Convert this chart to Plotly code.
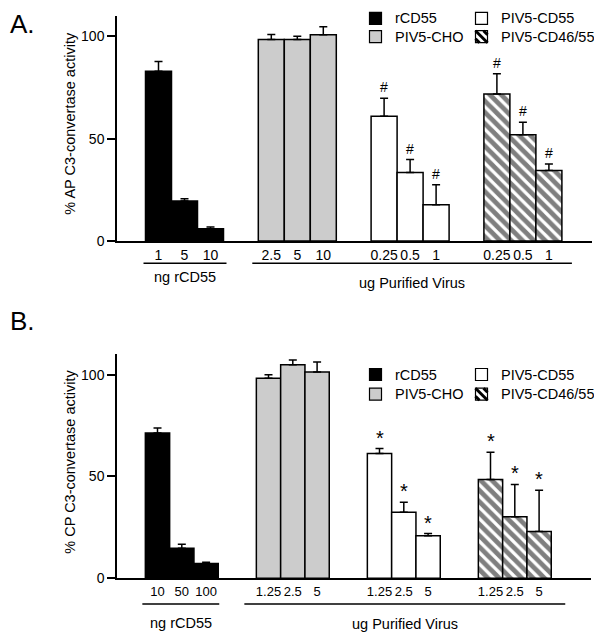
import plotly.graph_objects as go

# ---------------- data ----------------
series_names = ["rCD55", "PIV5-CHO", "PIV5-CD55", "PIV5-CD46/55"]

# Panel A (AP C3-convertase)
a_labels_rcd55 = ["1", "5", "10"]
a_labels_cho = ["2.5", "5", "10"]
a_labels_cd55 = ["0.25", "0.5", "1"]
a_labels_cd4655 = ["0.25", "0.5", "1"]
a_vals_rcd55 = [83.0, 19.5, 6.0]
a_vals_cho = [98.5, 98.5, 100.8]
a_vals_cd55 = [61.0, 33.5, 17.7]
a_vals_cd4655 = [71.9, 51.9, 34.5]
a_err_rcd55 = [4.8, 1.1, 0.9]
a_err_cho = [2.5, 1.6, 3.9]
a_err_cd55 = [8.8, 6.3, 9.8]
a_err_cd4655 = [9.9, 6.1, 3.1]
a_sig_cd55 = ["#", "#", "#"]
a_sig_cd4655 = ["#", "#", "#"]

# Panel B (CP C3-convertase)
b_labels_rcd55 = ["10", "50", "100"]
b_labels_cho = ["1.25", "2.5", "5"]
b_labels_cd55 = ["1.25", "2.5", "5"]
b_labels_cd4655 = ["1.25", "2.5", "5"]
b_vals_rcd55 = [71.4, 14.7, 7.3]
b_vals_cho = [98.3, 104.9, 101.3]
b_vals_cd55 = [61.3, 32.4, 20.9]
b_vals_cd4655 = [48.5, 30.2, 23.0]
b_err_rcd55 = [2.4, 2.0, 0.6]
b_err_cho = [1.7, 2.3, 4.9]
b_err_cd55 = [2.4, 4.9, 1.1]
b_err_cd4655 = [13.4, 15.9, 20.3]
b_sig_cd55 = ["*", "*", "*"]
b_sig_cd4655 = ["*", "*", "*"]

y_ticks = [0, 50, 100]
group_label_left = "ng rCD55"
group_label_right = "ug Purified Virus"
panel_letters = ["A.", "B."]
y_titles = ["% AP C3-convertase activity", "% CP C3-convertase activity"]

# ---------------- styling / layout ----------------
# the page body has an 8px margin; the figure fills the rest of the 602x640 window
OX, OY = 8, 8
W, H = 602 - OX, 640 - OY
FONT = "Liberation Sans, Arial, sans-serif"
LW = 1.5


def PX(x):
    return (x - OX) / W


def PY(y):
    return 1 - (y - OY) / H


fills = [
    dict(color="black"),
    dict(color="#cccccc"),
    dict(color="white"),
    dict(color="white", pattern=dict(shape="\\", fgcolor="black", bgcolor="white",
                                     size=8, solidity=0.6)),
]
legend_fill = ["black", "#cccccc", "white", "white"]
legend_cols = [375.5, 481.5]   # square centres (px)
legend_text_dx = 17

panels = [
    dict(labels=[a_labels_rcd55, a_labels_cho, a_labels_cd55, a_labels_cd4655],
         vals=[a_vals_rcd55, a_vals_cho, a_vals_cd55, a_vals_cd4655],
         errs=[a_err_rcd55, a_err_cho, a_err_cd55, a_err_cd4655],
         sigs=[None, None, a_sig_cd55, a_sig_cd4655],
         sigsize=14, sigshift=1, tick_size=14,
         top=16, bottom=241, left=117, right=592,
         first=41.5, step=112.8, bw=26,
         line_y=263.3, pad_l=(2, 3), pad_r=(6, 10),
         lab_l_y=277, lab_r_y=283,
         title_y=123.7, letter_y=8, legend_rows=[18.3, 36.7]),
    dict(labels=[b_labels_rcd55, b_labels_cho, b_labels_cd55, b_labels_cd4655],
         vals=[b_vals_rcd55, b_vals_cho, b_vals_cd55, b_vals_cd4655],
         errs=[b_err_rcd55, b_err_cho, b_err_cd55, b_err_cd4655],
         sigs=[None, None, b_sig_cd55, b_sig_cd4655],
         sigsize=20, sigshift=-2, tick_size=13,
         top=354.3, bottom=578.3, left=117, right=591,
         first=40.5, step=111, bw=24.3,
         line_y=604, pad_l=(3, 1), pad_r=(12, 14),
         lab_l_y=622.7, lab_r_y=624,
         title_y=461.7, letter_y=305, legend_rows=[374.5, 394.2]),
]

fig = go.Figure()
annotations = []
shapes = []

for p, P in enumerate(panels):
    sfx = "" if p == 0 else str(p + 1)
    xa, ya = "x" + sfx, "y" + sfx
    all_centers, all_text = [], []
    group_extent = []
    for g in range(4):
        centers = [P["first"] + g * P["step"] + i * P["bw"] for i in range(len(P["vals"][g]))]
        all_centers += centers
        all_text += P["labels"][g]
        group_extent.append((centers[0] - P["bw"] / 2, centers[-1] + P["bw"] / 2))
        marker = dict(line=dict(color="black", width=LW), **fills[g])
        fig.add_trace(go.Bar(
            x=centers, y=P["vals"][g], width=[P["bw"]] * len(centers),
            name=series_names[g], marker=marker, showlegend=False,
            error_y=dict(type="data", symmetric=False, array=P["errs"][g],
                         arrayminus=[0] * len(centers), color="black",
                         thickness=LW, width=4),
            xaxis=xa, yaxis=ya,
        ))
        if P["sigs"][g]:
            for c, v, e, s in zip(centers, P["vals"][g], P["errs"][g], P["sigs"][g]):
                annotations.append(dict(x=c, y=v + e, xref=xa, yref=ya, text=s,
                                        showarrow=False, yanchor="bottom",
                                        yshift=P["sigshift"],
                                        font=dict(size=P["sigsize"], color="black")))
    # axes
    fig.update_layout(**{
        "xaxis" + sfx: dict(domain=[PX(P["left"]), PX(P["right"])],
                            range=[0, P["right"] - P["left"]],
                            anchor=ya, showline=True, linecolor="black", linewidth=LW,
                            ticks="", tickvals=all_centers, ticktext=all_text,
                            tickangle=0, automargin=False,
                            tickfont=dict(size=P["tick_size"], color="black"),
                            showgrid=False, zeroline=False, fixedrange=True),
        "yaxis" + sfx: dict(domain=[PY(P["bottom"]), PY(P["top"])],
                            range=[0, 110], anchor=xa, showline=True, linecolor="black",
                            linewidth=LW, ticks="outside", ticklen=8, tickwidth=LW,
                            tickcolor="black", tickvals=y_ticks, automargin=False,
                            tickfont=dict(size=14, color="black"),
                            showgrid=False, zeroline=False, fixedrange=True),
    })
    # group underlines + labels
    left_ext = (group_extent[0][0] - P["pad_l"][0], group_extent[0][1] + P["pad_l"][1])
    right_ext = (group_extent[1][0] - P["pad_r"][0], group_extent[3][1] + P["pad_r"][1])
    for (x0, x1), lab, ly in [(left_ext, group_label_left, P["lab_l_y"]),
                              (right_ext, group_label_right, P["lab_r_y"])]:
        shapes.append(dict(type="line", xref=xa, yref="paper", x0=x0, x1=x1,
                           y0=PY(P["line_y"]), y1=PY(P["line_y"]),
                           line=dict(color="black", width=LW)))
        annotations.append(dict(x=(x0 + x1) / 2, xref=xa, y=PY(ly), yref="paper",
                                text=lab, showarrow=False, xanchor="center",
                                yanchor="middle", font=dict(size=14.5, color="black")))
    # y title
    annotations.append(dict(x=PX(70), y=PY(P["title_y"]), xref="paper", yref="paper",
                            text=y_titles[p], textangle=-90, showarrow=False,
                            xanchor="center", yanchor="middle",
                            font=dict(size=14.5, color="black")))
    # panel letter (box top anchored so it stays inside the figure)
    annotations.append(dict(x=PX(9), y=PY(P["letter_y"]), xref="paper", yref="paper",
                            text=panel_letters[p], showarrow=False, xanchor="left",
                            yanchor="top", borderpad=0,
                            font=dict(size=26, color="black")))
    # legend (2 x 2): column 0 -> rCD55, PIV5-CHO ; column 1 -> PIV5-CD55, PIV5-CD46/55
    for g in range(4):
        cx = legend_cols[g // 2]
        cy = P["legend_rows"][g % 2]
        x0, x1, y0, y1 = cx - 6, cx + 6, cy - 6, cy + 6
        shapes.append(dict(type="rect", xref="paper", yref="paper",
                           x0=PX(x0), x1=PX(x1), y0=PY(y1), y1=PY(y0),
                           fillcolor=legend_fill[g], line=dict(color="black", width=1.2)))
        if g == 3:
            for (ax, ay, bx, by) in [(x0, y0, x1, y1), (x0 + 8, y0, x1, y1 - 8),
                                     (x0, y0 + 8, x1 - 8, y1)]:
                shapes.append(dict(type="line", xref="paper", yref="paper",
                                   x0=PX(ax), y0=PY(ay), x1=PX(bx), y1=PY(by),
                                   line=dict(color="black", width=3)))
        annotations.append(dict(x=PX(cx + legend_text_dx), y=PY(cy), xref="paper",
                                yref="paper", text=series_names[g], showarrow=False,
                                xanchor="left", yanchor="middle",
                                font=dict(size=14.5, color="black")))

fig.update_layout(
    width=W, height=H, margin=dict(l=0, r=0, t=0, b=0, autoexpand=False),
    paper_bgcolor="white", plot_bgcolor="white",
    font=dict(family=FONT, color="black", size=14),
    barmode="overlay", showlegend=False,
    annotations=annotations, shapes=shapes,
)

fig.write_html("out.html")
